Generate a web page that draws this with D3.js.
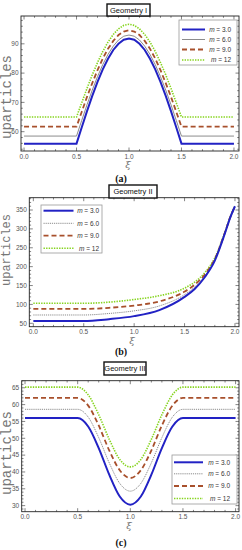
<!DOCTYPE html>
<html lang="en">
<head>
<meta charset="UTF-8">
<script src="https://cdn.jsdelivr.net/npm/d3@7"></script>
<style>
  body { margin: 0; background: #fff; }
  svg { display: block; }
</style>
</head>
<body>
<svg width="242" height="550"></svg>
<script>
// ---- data ----
var mLabels = ["3.0", "6.0", "9.0", "12"];

// (a) Geometry I
var xiA = [0, 0.5, 0.55, 0.6, 0.65, 0.7, 0.75, 0.8, 0.85, 0.9, 0.95, 1.0,
           1.05, 1.1, 1.15, 1.2, 1.25, 1.3, 1.35, 1.4, 1.45, 1.5, 2.0];
var uA_m3  = [55.9, 55.9, 61.5, 67.0, 72.2, 77.0, 81.3, 84.9, 87.9, 90.0, 91.4, 91.8,
              91.4, 90.0, 87.9, 84.9, 81.3, 77.0, 72.2, 67.0, 61.5, 55.9, 55.9];
var uA_m6  = [58.5, 58.5, 63.9, 69.2, 74.2, 78.8, 82.9, 86.4, 89.2, 91.3, 92.6, 93.0,
              92.6, 91.3, 89.2, 86.4, 82.9, 78.8, 74.2, 69.2, 63.9, 58.5, 58.5];
var uA_m9  = [61.7, 61.7, 66.8, 71.9, 76.6, 81.0, 85.0, 88.3, 91.0, 93.0, 94.2, 94.6,
              94.2, 93.0, 91.0, 88.3, 85.0, 81.0, 76.6, 71.9, 66.8, 61.7, 61.7];
var uA_m12 = [65.0, 65.0, 69.9, 74.8, 79.4, 83.6, 87.4, 90.6, 93.2, 95.1, 96.3, 96.7,
              96.3, 95.1, 93.2, 90.6, 87.4, 83.6, 79.4, 74.8, 69.9, 65.0, 65.0];

// (b) Geometry II
var xiB = [0, 0.5, 0.75, 1.0, 1.25, 1.5, 1.6, 1.7, 1.8, 1.9, 1.95, 2.0];
var uB_m3  = [56, 56, 61, 69, 85, 120, 141, 172, 216, 288, 328, 360];
var uB_m6  = [72, 72, 76, 83, 96, 126, 146, 175, 218, 289, 328, 360];
var uB_m9  = [88, 88, 91, 97, 108, 134, 152, 179, 220, 290, 329, 360];
var uB_m12 = [103, 103, 106, 113, 123, 143, 159, 184, 223, 291, 329, 360];

// (c) Geometry III
var xiC = [0, 0.5, 0.6, 0.7, 0.8, 0.9, 1.0, 1.1, 1.2, 1.3, 1.4, 1.5, 2.0];
var uC_m3  = [56.0, 56.0, 53.5, 47.1, 39.2, 32.7, 30.3, 32.7, 39.2, 47.1, 53.5, 56.0, 56.0];
var uC_m6  = [58.6, 58.6, 56.3, 50.2, 42.7, 36.6, 34.3, 36.6, 42.7, 50.2, 56.3, 58.6, 58.6];
var uC_m9  = [62.0, 62.0, 59.7, 53.8, 46.4, 40.5, 38.2, 40.5, 46.4, 53.8, 59.7, 62.0, 62.0];
var uC_m12 = [65.2, 65.2, 62.9, 57.0, 49.7, 43.7, 41.5, 43.7, 49.7, 57.0, 62.9, 65.2, 65.2];

var xTicks = [0, 0.5, 1.0, 1.5, 2.0];
var yTicksA = [60, 70, 80, 90];
var yTicksB = [50, 100, 150, 200, 250, 300, 350];
var yTicksC = [30, 35, 40, 45, 50, 55, 60, 65];

// ---- styles ----
var colors = ["#2222c4", "#8c8c8c", "#a8502c", "#86d41e"];
var widths = [2, 1, 1.8, 1.6];
var dashesA = [null, null, "5,3", "1.4,1.2"];
var dashesBC = [null, "1.2,0.9", "5,3", "1.4,1.2"];

var svg = d3.select("svg");

var panels = [
  { title: "Geometry I", cap: "(a)", xi: xiA, ys: [uA_m3, uA_m6, uA_m9, uA_m12],
    x0: 21, x1: 239, y0: 16, y1: 151, xd: [-0.029, 2.048], yd: [53.4, 99.5],
    yTicks: yTicksA, yMinor: 2, dashes: dashesA, curve: d3.curveLinear,
    titleBox: [107, 4, 43, 12], capY: 182, xiY: 168, xiX: 128, yLab: [7, 97], yLabSize: 14,
    leg: { x: 179, y: 20, w: 58, h: 45, rows: [29.5, 39.5, 49.5, 60], l0: 182, l1: 205, tx: 231 } },
  { title: "Geometry II", cap: "(b)", xi: xiB, ys: [uB_m3, uB_m6, uB_m9, uB_m12],
    x0: 29.3, x1: 239, y0: 197.7, y1: 326.7, xd: [-0.04, 2.04], yd: [41, 382.6],
    yTicks: yTicksB, yMinor: 10, dashes: dashesBC, curve: d3.curveMonotoneX,
    titleBox: [109, 185, 48, 13], capY: 355, xiY: 343.5, xiX: 132, yLab: [7, 250], yLabSize: 12,
    leg: { x: 41, y: 205, w: 61, h: 48, rows: [210.7, 223.3, 235.7, 248.3], l0: 43.5, l1: 73.5, tx: 99 } },
  { title: "Geometry III", cap: "(c)", xi: xiC, ys: [uC_m3, uC_m6, uC_m9, uC_m12],
    x0: 21.7, x1: 239, y0: 380.7, y1: 511.7, xd: [-0.0315, 2.0325], yd: [28.2, 67.1],
    yTicks: yTicksC, yMinor: 1, dashes: dashesBC, curve: d3.curveMonotoneX,
    titleBox: [104, 362, 42, 13], capY: 546, xiY: 529, xiX: 129, yLab: [7, 453], yLabSize: 14,
    leg: { x: 172, y: 455, w: 65, h: 49, rows: [462.3, 473.8, 486, 498.5], l0: 174, l1: 203, tx: 230 } }
];

panels.forEach(function(p, pi) {
  var x = d3.scaleLinear().domain(p.xd).range([p.x0, p.x1]);
  var y = d3.scaleLinear().domain(p.yd).range([p.y1, p.y0]);
  var g = svg.append("g");

  var clipId = "clip" + pi;
  g.append("clipPath").attr("id", clipId)
    .append("rect").attr("x", p.x0).attr("y", p.y0)
    .attr("width", p.x1 - p.x0).attr("height", p.y1 - p.y0);

  // frame ticks (all four sides, pointing inwards)
  var xMinor = d3.range(0, 2.0001, 0.1);
  var yMinor = d3.range(Math.ceil(p.yd[0] / p.yMinor) * p.yMinor, p.yd[1], p.yMinor);
  var tk = g.append("g").attr("stroke", "#333").attr("stroke-width", 0.6);
  xMinor.forEach(function(v) {
    var major = xTicks.some(function(t) { return Math.abs(t - v) < 1e-6; });
    var len = major ? 3.5 : 1.8;
    tk.append("line").attr("x1", x(v)).attr("x2", x(v)).attr("y1", p.y1).attr("y2", p.y1 - len);
    tk.append("line").attr("x1", x(v)).attr("x2", x(v)).attr("y1", p.y0).attr("y2", p.y0 + len);
  });
  yMinor.forEach(function(v) {
    var major = p.yTicks.some(function(t) { return Math.abs(t - v) < 1e-6; });
    var len = major ? 3.5 : 1.8;
    tk.append("line").attr("y1", y(v)).attr("y2", y(v)).attr("x1", p.x0).attr("x2", p.x0 + len);
    tk.append("line").attr("y1", y(v)).attr("y2", y(v)).attr("x1", p.x1).attr("x2", p.x1 - len);
  });

  // tick labels
  g.selectAll(".xl").data(xTicks).enter().append("text")
    .attr("x", function(d) { return x(d); })
    .attr("y", p.y1 + 7.5)
    .attr("text-anchor", "middle")
    .attr("font-family", "Liberation Sans, Arial, sans-serif")
    .attr("font-size", 6.5).attr("fill", "#555")
    .text(function(d) { return d3.format(".1f")(d); });
  g.selectAll(".yl").data(p.yTicks).enter().append("text")
    .attr("x", p.x0 - 2.5)
    .attr("y", function(d) { return y(d) + 2.3; })
    .attr("text-anchor", "end")
    .attr("font-family", "Liberation Sans, Arial, sans-serif")
    .attr("font-size", 6.5).attr("fill", "#555")
    .text(function(d) { return d; });

  // curves
  var line = d3.line()
    .x(function(d) { return x(d[0]); })
    .y(function(d) { return y(d[1]); })
    .curve(p.curve);
  var cg = g.append("g").attr("clip-path", "url(#" + clipId + ")");
  // draw green first so blue sits on top
  [3, 2, 1, 0].forEach(function(k) {
    var pts = p.xi.map(function(v, i) { return [v, p.ys[k][i]]; });
    cg.append("path")
      .attr("d", line(pts))
      .attr("fill", "none")
      .attr("stroke", colors[k])
      .attr("stroke-width", widths[k])
      .attr("stroke-dasharray", p.dashes[k]);
  });

  // frame
  g.append("rect").attr("x", p.x0).attr("y", p.y0)
    .attr("width", p.x1 - p.x0).attr("height", p.y1 - p.y0)
    .attr("fill", "none").attr("stroke", "#222").attr("stroke-width", 0.9);

  // legend
  var L = p.leg;
  g.append("rect").attr("x", L.x).attr("y", L.y).attr("width", L.w).attr("height", L.h)
    .attr("fill", "#fff").attr("stroke", "#999").attr("stroke-width", 0.8);
  L.rows.forEach(function(ry, k) {
    g.append("line").attr("x1", L.l0).attr("x2", L.l1).attr("y1", ry).attr("y2", ry)
      .attr("stroke", colors[k]).attr("stroke-width", widths[k])
      .attr("stroke-dasharray", p.dashes[k]);
    var t = g.append("text").attr("x", L.tx).attr("y", ry + 2.3)
      .attr("text-anchor", "end")
      .attr("font-family", "Liberation Sans, Arial, sans-serif")
      .attr("font-size", 6.5).attr("fill", "#333");
    t.append("tspan").attr("font-style", "italic").text("m");
    t.append("tspan").text(" = " + mLabels[k]);
  });

  // title box
  var tb = p.titleBox;
  g.append("rect").attr("x", tb[0]).attr("y", tb[1]).attr("width", tb[2]).attr("height", tb[3])
    .attr("fill", "#fff").attr("stroke", "#111").attr("stroke-width", 1.4);
  g.append("text").attr("x", tb[0] + tb[2] / 2).attr("y", tb[1] + tb[3] / 2 + 2.7)
    .attr("text-anchor", "middle")
    .attr("font-family", "Liberation Sans, Arial, sans-serif")
    .attr("font-size", 7.5).attr("fill", "#111")
    .text(p.title);

  // axis labels
  g.append("text")
    .attr("transform", "translate(" + p.yLab[0] + "," + p.yLab[1] + ") rotate(-90)")
    .attr("text-anchor", "middle")
    .attr("dominant-baseline", "middle")
    .attr("font-family", "Liberation Mono, Courier New, monospace")
    .attr("font-size", p.yLabSize).attr("fill", "#777")
    .text("uparticles");
  g.append("text").attr("x", p.xiX).attr("y", p.xiY)
    .attr("text-anchor", "middle")
    .attr("font-family", "DejaVu Serif, serif").attr("font-style", "italic")
    .attr("font-size", 10).attr("fill", "#777")
    .text("ξ");

  // caption
  g.append("text").attr("x", 121).attr("y", p.capY)
    .attr("text-anchor", "middle")
    .attr("font-family", "Liberation Serif, Times New Roman, serif")
    .attr("font-weight", "bold").attr("font-size", 10).attr("fill", "#111")
    .text(p.cap);
});
</script>
</body>
</html>
